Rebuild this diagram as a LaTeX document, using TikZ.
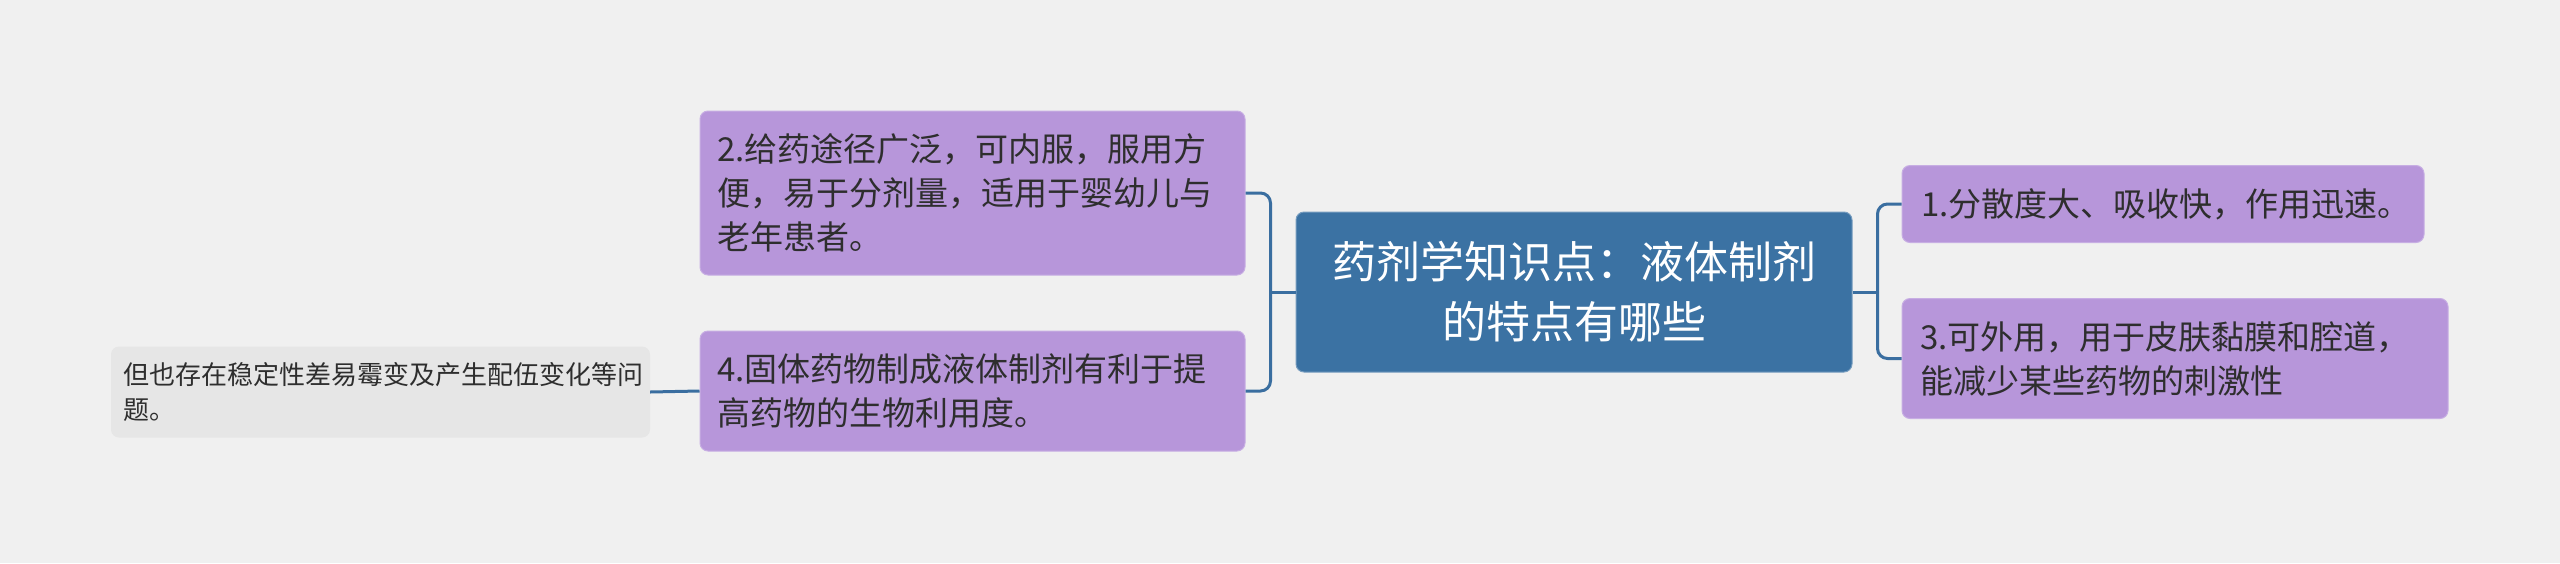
\documentclass[tikz,border=0pt]{standalone}
\usepackage{fontspec}
\setmainfont{Noto Sans CJK SC}
\newfontfamily\cjk{Noto Sans CJK SC}
\definecolor{bgc}{HTML}{F0F0F0}
\definecolor{rootc}{HTML}{3B72A3}
\definecolor{connc}{HTML}{3A6EA0}
\definecolor{purc}{HTML}{B796DA}
\definecolor{purd}{HTML}{C7AEE3}
\definecolor{grayc}{HTML}{E6E6E6}
\definecolor{txtc}{HTML}{2E2E2E}
\begin{document}
\begin{tikzpicture}[x=1pt,y=-1pt,
  rootbox/.style={fill=rootc,draw=rootc!70!white,line width=1pt,rounded corners=8pt,text=white,
    font=\cjk\fontsize{44}{60}\selectfont,align=center,text width=516pt,inner xsep=20pt,inner ysep=0pt,
    minimum width=556pt,minimum height=160pt},
  purbox/.style={fill=purc,draw=purd,line width=1pt,rounded corners=8pt,text=txtc,
    font=\cjk\fontsize{33}{44}\selectfont,align=left,inner ysep=0pt},
  graybox/.style={fill=grayc,draw=none,rounded corners=8pt,text=txtc,
    font=\cjk\fontsize{26}{35}\selectfont,align=left,inner ysep=0pt},
  conn/.style={draw=connc,line width=3pt,rounded corners=10pt}
]
\useasboundingbox[fill=bgc] (0,0) rectangle (2560,563);

\node[rootbox] (root) at (1574,292) {药剂学知识点：液体制剂\\的特点有哪些};

\node[purbox,text width=484pt,inner xsep=19pt,minimum width=522pt,minimum height=77pt] (n1) at (2163,204)
  {1.分散度大、吸收快，作用迅速。};
\node[purbox,text width=510pt,inner xsep=18pt,minimum width=546pt,minimum height=120pt] (n3) at (2175,358.5)
  {3.可外用，用于皮肤黏膜和腔道，\\能减少某些药物的刺激性};

\node[purbox,text width=511pt,inner xsep=17pt,minimum width=545pt,minimum height=164pt] (n2) at (972.5,193)
  {2.给药途径广泛，可内服，服用方\\便，易于分剂量，适用于婴幼儿与\\老年患者。};
\node[purbox,text width=511pt,inner xsep=17pt,minimum width=545pt,minimum height=120pt] (n4) at (972.5,391)
  {4.固体药物制成液体制剂有利于提\\高药物的生物利用度。};

\node[graybox,text width=515pt,inner xsep=12pt,minimum width=539pt,minimum height=91pt] (g) at (380.5,392)
  {但也存在稳定性差易霉变及产生配伍变化等问\\题。};

% connectors
\draw[conn] (root.west) -- ++(-26,0);
\draw[conn] (n2.east) -- ++(25,0) |- (n4.east);
\draw[conn] (root.east) -- ++(26,0);
\draw[conn] (n1.west) -- ++(-24,0) |- (n3.west);
\draw[conn] (n4.west) -- (g.east);
\end{tikzpicture}
\end{document}
